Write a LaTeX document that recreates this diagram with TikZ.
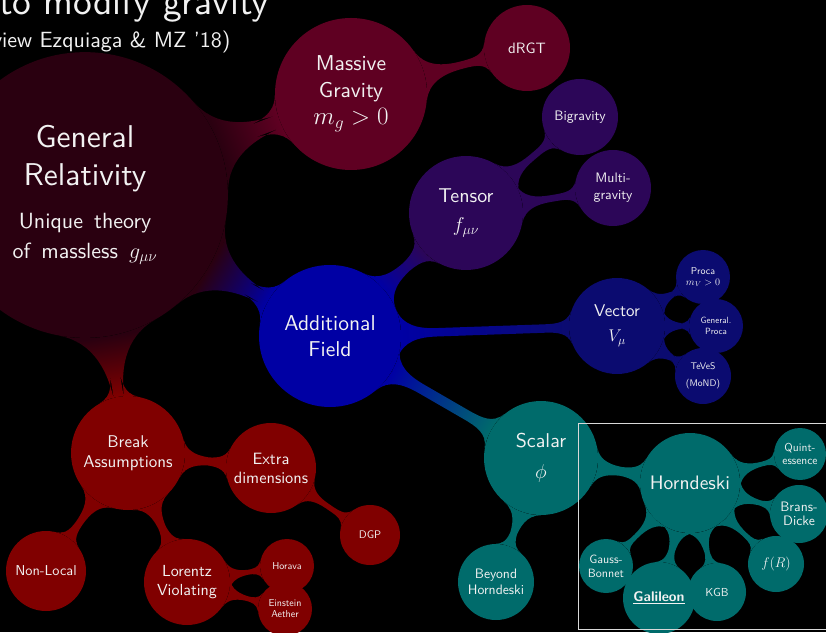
\RequirePackage{fix-cm}
\documentclass[tikz,border=0pt]{standalone}
\usetikzlibrary{mindmap}
\DeclareFontFamily{TU}{lmssw}{}
\DeclareFontShape{TU}{lmssw}{m}{n}{<-> \UnicodeFontFile{lmsans10-regular}{\UnicodeFontTeXLigatures}}{}
\DeclareFontShape{TU}{lmssw}{bx}{n}{<-> \UnicodeFontFile{lmsans10-bold}{\UnicodeFontTeXLigatures}}{}
\DeclareFontShape{TU}{lmssw}{b}{n}{<-> ssub * lmssw/bx/n}{}
\renewcommand\sfdefault{lmssw}
\definecolor{grc}{HTML}{2A0010}
\definecolor{mgc}{HTML}{5F0022}
\definecolor{tenc}{HTML}{2C0658}
\definecolor{afc}{HTML}{0000A4}
\definecolor{vecc}{HTML}{0B0B70}
\definecolor{scc}{HTML}{006B6B}
\definecolor{brc}{HTML}{800000}
\definecolor{txt}{HTML}{F2F2F2}
\pgfdeclarelayer{backlayer}
\pgfdeclarelayer{barlayer}
\pgfsetlayers{backlayer,barlayer,main}
\tikzset{
  cpt/.style={circle, inner sep=0pt, text=txt, align=center},
  fs/.style 2 args={font=\sffamily\fontsize{#1}{#2}\selectfont},
}
\begin{document}
\begin{tikzpicture}[x=1pt,y=1pt]
\useasboundingbox (0,0) rectangle (826,632);
\clip (0,0) rectangle (826,632);
\begin{pgfonlayer}{backlayer}
\fill[black] (0,0) rectangle (826,632);
\end{pgfonlayer}

% title
\node[anchor=base west, text=txt, fs={37.5}{42}, inner sep=0pt] (title) at (-1,617) {to modify gravity};
\node[anchor=base west, text=txt, fs={22}{26}, inner sep=0pt] (sub) at (-34,584) {(review Ezquiaga \& MZ '18)};

% root
\node[cpt, fill=grc, minimum size=270pt, text width=250pt] (gr) at (85,437)
  {\sffamily\fontsize{31.5}{38}\selectfont General\\Relativity\par\vspace{13pt}
   \fontsize{22}{30}\selectfont\spaceskip=0.5em Unique theory\\of massless $g_{\mu\nu}$\par};

% massive gravity
\node[cpt, fill=mgc, minimum size=152pt, fs={21.5}{27}] (mg) at (351,538) {Massive\\Gravity\\{\fontsize{25}{27}\selectfont$m_g>0$}};
\node[cpt, fill=mgc, minimum size=86pt, fs={15}{18}] (drgt) at (527,584) {dRGT};

% additional field
\node[cpt, fill=afc, minimum size=142pt, fs={21.5}{26}] (af) at (330,296) {Additional\\Field};

% tensor
\node[cpt, fill=tenc, minimum size=114pt, fs={20}{29}] (ten) at (466,419) {Tensor\\$f_{\mu\nu}$};
\node[cpt, fill=tenc, minimum size=76pt, fs={13.8}{17}] (bigr) at (580,515) {Bigravity};
\node[cpt, fill=tenc, minimum size=76pt, fs={13.7}{17}] (multi) at (613,444) {Multi-\\gravity};

% vector
\node[cpt, fill=vecc, minimum size=96pt, fs={17}{25}] (vec) at (617,306) {Vector\\$V_\mu$};
\node[cpt, fill=vecc, minimum size=54pt, fs={10}{11}] (proca) at (703,355) {Proca\\$m_V>0$};
\node[cpt, fill=vecc, minimum size=54pt, fs={9}{11}] (gproca) at (716,306) {General.\\Proca};
\node[cpt, fill=vecc, minimum size=56pt, fs={9.6}{17}] (teves) at (703,256) {TeVeS\\(MoND)};

% scalar
\node[cpt, fill=scc, minimum size=114pt, fs={20}{31}] (sc) at (541,174) {Scalar\\$\phi$};
\node[cpt, fill=scc, minimum size=76pt, fs={13.7}{16}] (beyond) at (496,50) {Beyond\\Horndeski};
\node[cpt, fill=scc, minimum size=100pt, fs={19.5}{23}] (horn) at (690,149) {Horndeski};
\node[cpt, fill=scc, minimum size=52pt, fs={11.5}{13}] (quint) at (800,178) {Quint-\\essence};
\node[cpt, fill=scc, minimum size=58pt, fs={13.7}{14.5}] (brans) at (799,118) {Brans-\\Dicke};
\node[cpt, fill=scc, minimum size=56pt, fs={14}{16}] (fr) at (776,68) {$f(R)$};
\node[cpt, fill=scc, minimum size=58pt, fs={11.6}{14}] (kgb) at (717,40) {KGB};
\node[cpt, fill=scc, minimum size=54pt, fs={12}{14}] (gauss) at (606,66) {Gauss-\\Bonnet};
\node[cpt, fill=scc, minimum size=72pt, fs={14}{16}] (gal) at (659,34) {\textbf{\underline{Galileon}}};

% break assumptions
\node[cpt, fill=brc, minimum size=114pt, fs={17}{20}] (br) at (128,179) {Break\\Assumptions};
\node[cpt, fill=brc, minimum size=90pt, fs={16.4}{19}] (extra) at (271,164) {Extra\\dimensions};
\node[cpt, fill=brc, minimum size=60pt, fs={11}{13}] (dgp) at (370,97) {DGP};
\node[cpt, fill=brc, minimum size=80pt, fs={14.3}{17}] (nonloc) at (46,61) {Non-Local};
\node[cpt, fill=brc, minimum size=86pt, fs={16}{19}] (lor) at (187,50) {Lorentz\\Violating};
\node[cpt, fill=brc, minimum size=54pt, fs={10}{12}] (horava) at (287,66) {Horava};
\node[cpt, fill=brc, minimum size=54pt, fs={10}{11}] (aether) at (285,23) {Einstein\\Aether};

% connection bars
\begin{pgfonlayer}{barlayer}
\path[line width=12pt] (gr) to[circle connection bar switch color=from (grc) to (mgc)] (mg);
\path[line width=12pt] (gr) to[circle connection bar switch color=from (grc) to (afc)] (af);
\path[line width=10pt] (gr) to[circle connection bar switch color=from (grc) to (brc)] (br);
\path[line width=6pt] (mg) to[circle connection bar switch color=from (mgc) to (mgc)] (drgt);
\path[line width=8pt] (af) to[circle connection bar switch color=from (afc) to (tenc)] (ten);
\path[line width=5pt] (ten) to[circle connection bar switch color=from (tenc) to (tenc)] (bigr);
\path[line width=5pt] (ten) to[circle connection bar switch color=from (tenc) to (tenc)] (multi);
\path[line width=8pt] (af) to[circle connection bar switch color=from (afc) to (vecc)] (vec);
\path[line width=4pt] (vec) to[circle connection bar switch color=from (vecc) to (vecc)] (proca);
\path[line width=4pt] (vec) to[circle connection bar switch color=from (vecc) to (vecc)] (gproca);
\path[line width=4pt] (vec) to[circle connection bar switch color=from (vecc) to (vecc)] (teves);
\path[line width=10pt] (af) to[circle connection bar switch color=from (afc) to (scc)] (sc);
\path[line width=5pt] (sc) to[circle connection bar switch color=from (scc) to (scc)] (horn);
\path[line width=6pt] (sc) to[circle connection bar switch color=from (scc) to (scc)] (beyond);
\path[line width=4pt] (horn) to[circle connection bar switch color=from (scc) to (scc)] (quint);
\path[line width=4pt] (horn) to[circle connection bar switch color=from (scc) to (scc)] (brans);
\path[line width=4pt] (horn) to[circle connection bar switch color=from (scc) to (scc)] (fr);
\path[line width=4pt] (horn) to[circle connection bar switch color=from (scc) to (scc)] (kgb);
\path[line width=4pt] (horn) to[circle connection bar switch color=from (scc) to (scc)] (gal);
\path[line width=4pt] (horn) to[circle connection bar switch color=from (scc) to (scc)] (gauss);
\path[line width=7pt] (br) to[circle connection bar switch color=from (brc) to (brc)] (extra);
\path[line width=5pt] (extra) to[circle connection bar switch color=from (brc) to (brc)] (dgp);
\path[line width=6pt] (br) to[circle connection bar switch color=from (brc) to (brc)] (nonloc);
\path[line width=6pt] (br) to[circle connection bar switch color=from (brc) to (brc)] (lor);
\path[line width=4pt] (lor) to[circle connection bar switch color=from (brc) to (brc)] (horava);
\path[line width=4pt] (lor) to[circle connection bar switch color=from (brc) to (brc)] (aether);
\end{pgfonlayer}

% highlight box
\node[draw=white!85!black, line width=1pt, inner sep=0pt, minimum width=252pt, minimum height=206pt, anchor=south west] (box) at (578,2) {};
\end{tikzpicture}
\end{document}
